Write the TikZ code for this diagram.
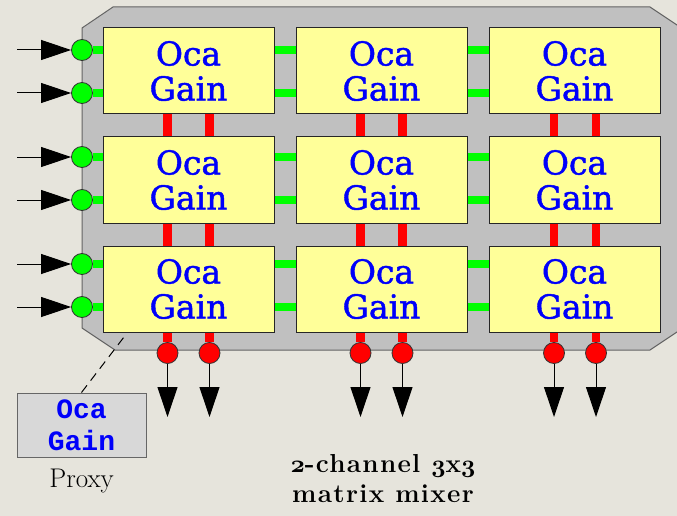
\documentclass[tikz,border=0pt]{standalone}
\usepackage{fontspec}
\usepackage{tikz}
\usetikzlibrary{arrows.meta,positioning,backgrounds}
\newfontfamily\gainfont{DejaVu Serif}[FakeBold=1.3]
\newfontfamily\proxyfont{Liberation Mono}
\newfontfamily\mixerfont{Latin Modern Roman}[LetterSpace=5]
\newcommand\osdigit[1]{{\usefont{OML}{cmm}{b}{it}#1}}
\definecolor{backdrop}{RGB}{230,228,220}
\definecolor{panelgray}{RGB}{192,192,192}
\definecolor{panelline}{RGB}{100,100,100}
\definecolor{gainfill}{RGB}{255,255,153}
\definecolor{ocablue}{RGB}{0,0,250}
\definecolor{busgreen}{RGB}{0,255,0}
\definecolor{busred}{RGB}{255,0,0}
\definecolor{proxyfill}{RGB}{216,216,216}

\begin{document}
\begin{tikzpicture}[x=1pt,y=-1pt,node distance=23pt and 22pt,
gain/.style={draw=black!85,fill=gainfill,line width=1pt,minimum width=171pt,minimum height=86pt,inner sep=0pt,outer sep=0pt,align=center,text=ocablue,font=\gainfont\fontsize{33}{35}\selectfont},
indot/.style={circle,draw=black!80,fill=busgreen,line width=0.8pt,minimum size=21pt,inner sep=0pt},
outdot/.style={circle,draw=black!80,fill=busred,line width=0.8pt,minimum size=21pt,inner sep=0pt},
greenbus/.style={busgreen,line width=8pt},
redbus/.style={busred,line width=8.5pt},
arr/.style={-{Triangle[length=30pt,width=20pt]},line width=1pt},
proxybox/.style={draw=black!60,fill=proxyfill,line width=1pt,minimum width=129pt,minimum height=64pt,inner sep=0pt,align=center,text=ocablue,font=\proxyfont\bfseries\fontsize{28}{32}\selectfont}]
\useasboundingbox (0,0) rectangle (677,516);
\node[gain] (gain11) at (188.5,71) {Oca\\Gain};
\node[gain,right=of gain11] (gain12) {Oca\\Gain};
\node[gain,right=of gain12] (gain13) {Oca\\Gain};
\node[gain,below=of gain11] (gain21) {Oca\\Gain};
\node[gain,right=of gain21] (gain22) {Oca\\Gain};
\node[gain,right=of gain22] (gain23) {Oca\\Gain};
\node[gain,below=of gain21] (gain31) {Oca\\Gain};
\node[gain,right=of gain31] (gain32) {Oca\\Gain};
\node[gain,right=of gain32] (gain33) {Oca\\Gain};
% inputs
\node[indot] (in1) at (82,50) {};
\node[indot] (in2) at (82,93) {};
\node[indot] (in3) at (82,157) {};
\node[indot] (in4) at (82,200) {};
\node[indot] (in5) at (82,264) {};
\node[indot] (in6) at (82,307) {};
% outputs
\node[outdot] (out1) at (167.5,353) {};
\node[outdot] (out2) at (209.5,353) {};
\node[outdot] (out3) at (360.5,353) {};
\node[outdot] (out4) at (402.5,353) {};
\node[outdot] (out5) at (554,353) {};
\node[outdot] (out6) at (596,353) {};
\foreach \i/\y in {1/50,2/93,3/157,4/200,5/264,6/307}
  \coordinate (src\i) at (17,\y);
\foreach \i/\x in {1/167.5,2/209.5,3/360.5,4/402.5,5/554,6/596}
  \coordinate (sink\i) at (\x,417);
\begin{scope}[on background layer]
\fill[backdrop] (0,0) rectangle (677,516);
\filldraw[fill=panelgray,draw=panelline,line width=1pt] (113,7) -- (650,7) -- (695,37) -- (695,320) -- (650,350) -- (115,350) -- (82,328) -- (82,28) -- cycle;
\foreach \i/\r in {1/1,2/1,3/2,4/2,5/3,6/3}
  \draw[greenbus] (in\i) -- (in\i -| gain\r3.west);
\foreach \i/\c in {1/1,2/1,3/2,4/2,5/3,6/3}
  \draw[redbus] (out\i) -- (out\i |- gain1\c.south);
\end{scope}
\foreach \i in {1,...,6} {
  \draw[arr] (src\i) -- (in\i);
  \draw[arr] (out\i) -- (sink\i);
}
% proxy
\node[proxybox] (proxy) at (81.5,425) {Oca\\Gain};
\node[below=11pt of proxy,inner sep=0pt,font=\fontsize{27}{30}\selectfont] (proxylabel) {Proxy};
\coordinate (tap) at (124,337);
\draw[dash pattern=on 9pt off 6pt,line width=1pt] (proxy.north) -- (tap);
\node[align=center,font=\mixerfont\bfseries\fontsize{26}{30}\selectfont] (mixer) at (383,479) {\osdigit{2}-channel \osdigit{3}x\osdigit{3}\\matrix mixer};
\end{tikzpicture}
\end{document}
